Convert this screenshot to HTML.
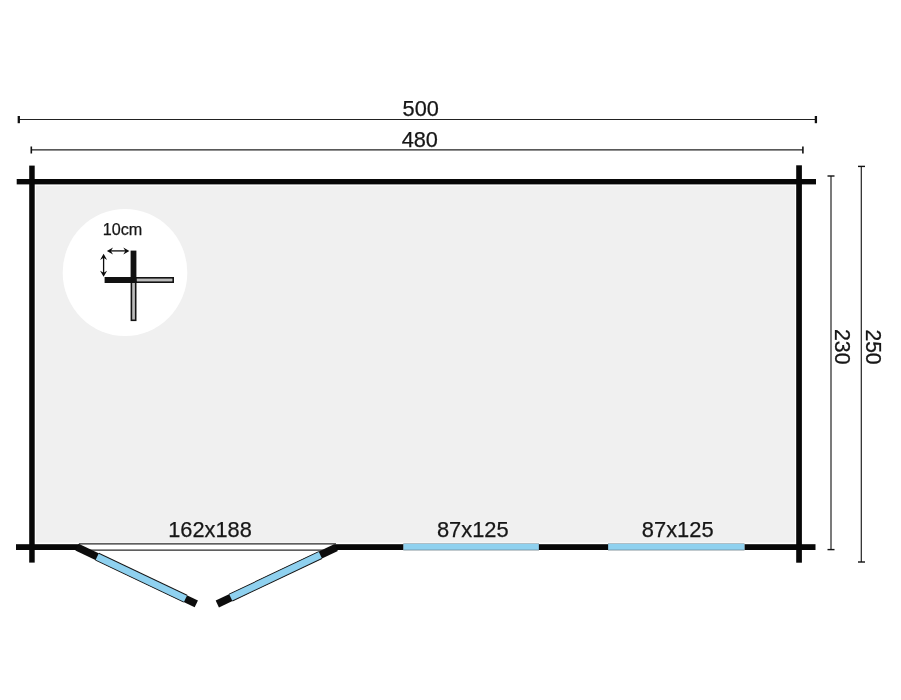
<!DOCTYPE html>
<html><head><meta charset="utf-8">
<style>
html,body{margin:0;padding:0;background:#fff;}
body{width:901px;height:700px;overflow:hidden;font-family:"Liberation Sans",sans-serif;}
svg{display:block;}
text{font-family:"Liberation Sans",sans-serif;fill:#161616;stroke:#161616;stroke-width:0.25;}
</style></head><body>
<svg width="901" height="700" viewBox="0 0 901 700">
<rect width="901" height="700" fill="#fff"/>
<!-- floor -->
<rect x="35.9" y="185.8" width="759.1" height="356.8" fill="#f0f0f0"/>
<!-- inset circle -->
<ellipse cx="125" cy="272.5" rx="62.3" ry="63.5" fill="#fff"/>
<!-- walls -->
<g fill="#080808">
<rect x="16.7" y="179" width="799.3" height="5.4"/>
<rect x="29.2" y="165.6" width="5.5" height="397"/>
<rect x="796.2" y="165.3" width="5.7" height="397.4"/>
<rect x="16" y="544.2" width="63.5" height="5.8"/>
<rect x="335" y="544.2" width="68.5" height="5.8"/>
<rect x="539" y="544.2" width="69" height="5.8"/>
<rect x="744.5" y="544.2" width="71" height="5.8"/>
</g>
<!-- door threshold -->
<rect x="79" y="544.2" width="256" height="5.8" fill="#fff"/>
<line x1="79" y1="543.9" x2="336" y2="543.9" stroke="#2a2a2a" stroke-width="1.2"/>
<line x1="79" y1="550.2" x2="336" y2="550.2" stroke="#2a2a2a" stroke-width="1.2"/>
<!-- windows -->
<rect x="403.3" y="543.5" width="135.7" height="6.9" fill="#667a84"/>
<rect x="403.6" y="543.9" width="135.1" height="5.8" fill="#8fd1ef"/>
<rect x="608" y="543.5" width="136.5" height="6.9" fill="#667a84"/>
<rect x="608.3" y="543.9" width="135.9" height="5.8" fill="#8fd1ef"/>
<!-- doors -->
<g transform="translate(77.01,547.08) rotate(25.44)"><rect x="0" y="-3.8" width="132.1" height="7.6" fill="#0d0d0d"/><rect x="22.3" y="-4.25" width="97.8" height="8.5" fill="#1a1a1a"/><rect x="22.3" y="-3.35" width="97.8" height="6.7" fill="#8fd1ef"/></g>
<g transform="translate(336.21,547.55) rotate(154.62)"><rect x="0" y="-3.8" width="131.6" height="7.6" fill="#0d0d0d"/><rect x="17.6" y="-4.25" width="99.1" height="8.5" fill="#1a1a1a"/><rect x="17.6" y="-3.35" width="99.1" height="6.7" fill="#8fd1ef"/></g>
<!-- dimension lines -->
<g stroke="#222" stroke-width="1.2" fill="none">
<line x1="18.5" y1="119.5" x2="816" y2="119.5"/>
<line x1="31.2" y1="149.8" x2="803" y2="149.8"/>
<line x1="831" y1="176" x2="831" y2="549.6"/>
<line x1="861.3" y1="166.4" x2="861.3" y2="562"/>
</g>
<g stroke="#111" fill="none">
<line x1="18.8" y1="116" x2="18.8" y2="123.2" stroke-width="2.3"/>
<line x1="815.9" y1="116" x2="815.9" y2="123.2" stroke-width="2.3"/>
<line x1="31.3" y1="146.5" x2="31.3" y2="153.5" stroke-width="1.6"/>
<line x1="802.9" y1="146.5" x2="802.9" y2="153.5" stroke-width="1.6"/>
<line x1="827.5" y1="176" x2="834.5" y2="176" stroke-width="1.4"/>
<line x1="827.5" y1="549.6" x2="834.5" y2="549.6" stroke-width="1.4"/>
<line x1="858" y1="166.4" x2="865" y2="166.4" stroke-width="1.4"/>
<line x1="858" y1="562" x2="865" y2="562" stroke-width="1.4"/>
</g>
<!-- dimension texts -->
<g opacity="0.999">
<text x="420.7" y="116.2" font-size="22.3" text-anchor="middle" textLength="36.3" lengthAdjust="spacingAndGlyphs">500</text>
<text x="419.8" y="146.5" font-size="22.3" text-anchor="middle" textLength="36.3" lengthAdjust="spacingAndGlyphs">480</text>
<text transform="translate(834.5,346.7) rotate(90)" font-size="22.3" text-anchor="middle" textLength="35.6" lengthAdjust="spacingAndGlyphs">230</text>
<text transform="translate(866.0,347.0) rotate(90)" font-size="22.3" text-anchor="middle" textLength="35.2" lengthAdjust="spacingAndGlyphs">250</text>
<text x="210" y="536.8" font-size="22.3" text-anchor="middle" textLength="83.5" lengthAdjust="spacingAndGlyphs">162x188</text>
<text x="472.8" y="536.6" font-size="22.3" text-anchor="middle" textLength="71.8" lengthAdjust="spacingAndGlyphs">87x125</text>
<text x="677.7" y="536.6" font-size="22.3" text-anchor="middle" textLength="71.8" lengthAdjust="spacingAndGlyphs">87x125</text>
<!-- inset -->
<text x="122.5" y="235" font-size="16" text-anchor="middle" textLength="39.5" lengthAdjust="spacingAndGlyphs">10cm</text>
</g>
<g>
<rect x="135.6" y="277.8" width="37.6" height="4.4" fill="#bcbcbc" stroke="#141414" stroke-width="1.6"/>
<rect x="131.4" y="282" width="4.3" height="38.3" fill="#bcbcbc" stroke="#141414" stroke-width="1.6"/>
<rect x="130.6" y="250.6" width="5.8" height="32.4" fill="#111"/>
<rect x="104.6" y="277" width="31.8" height="6" fill="#111"/>
</g>
<g fill="#0c0c0c" stroke="none">
<rect x="110" y="250.25" width="16" height="1.3"/>
<path d="M106.90 250.90 L113.00 254.40 L110.90 250.90 L113.00 247.40 Z"/>
<path d="M129.40 250.90 L123.30 247.40 L125.40 250.90 L123.30 254.40 Z"/>
<rect x="102.95" y="257" width="1.3" height="16.6"/>
<path d="M103.60 253.80 L100.10 259.90 L103.60 257.80 L107.10 259.90 Z"/>
<path d="M103.60 276.80 L107.10 270.70 L103.60 272.80 L100.10 270.70 Z"/>
</g>
</svg>
</body></html>
